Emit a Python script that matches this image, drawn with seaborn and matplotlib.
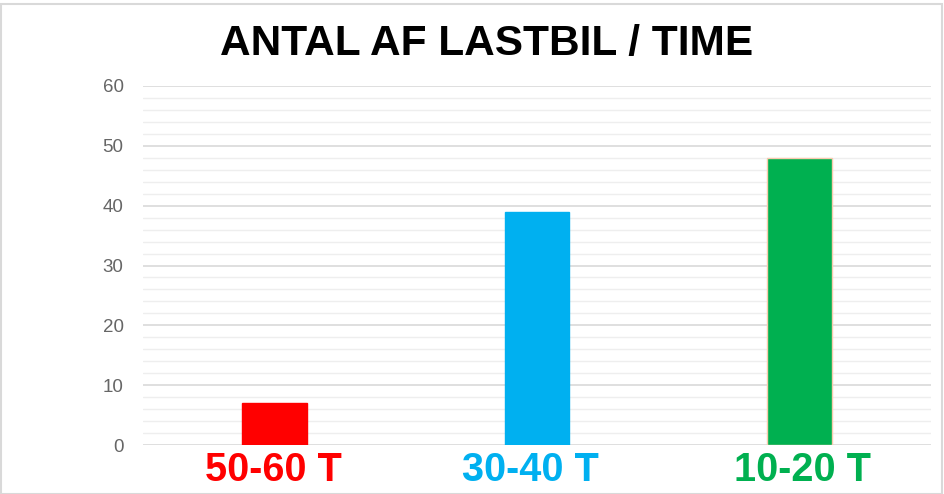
import matplotlib
matplotlib.use("Agg")
import matplotlib.pyplot as plt
import matplotlib.transforms as mtransforms
import seaborn as sns
import pandas as pd
from matplotlib.ticker import MultipleLocator
from matplotlib.patches import Rectangle

# data
categories = ["50-60 T", "30-40 T", "10-20 T"]
values = [7, 39, 48]
colors = ["#ff0000", "#00b0f0", "#00b050"]
edge_colors = ["#ff0000", "#00b0f0", "#f8cbad"]
label_shift_px = [-1, -7, 3]  # labels in the original sit slightly off-centre

sns.set_style("white")
plt.rcParams['font.family'] = ['Liberation Sans', 'DejaVu Sans']

df = pd.DataFrame({"kategori": categories, "antal": values})

fig = plt.figure(figsize=(9.44, 4.94), dpi=100)
ax = fig.add_axes([143 / 944, 1 - 445 / 494, (931 - 143) / 944, (445 - 86) / 494])

sns.barplot(data=df, x="kategori", y="antal", hue="kategori", palette=colors,
            saturation=1, width=0.247, legend=False, ax=ax, zorder=3)
for patch, ec in zip(ax.patches, edge_colors):
    patch.set_edgecolor(ec)
    patch.set_linewidth(1.0)

ax.set_ylim(0, 60)
ax.set_xlim(-0.5, 2.5)
ax.yaxis.set_major_locator(MultipleLocator(10))
ax.yaxis.set_minor_locator(MultipleLocator(2))
ax.grid(axis='y', which='major', color='#d9d9d9', linewidth=1.2, zorder=0)
ax.grid(axis='y', which='minor', color='#eeeeee', linewidth=1.0, zorder=0)
ax.set_axisbelow(True)
for s in ax.spines.values():
    s.set_visible(False)

ax.tick_params(axis='y', which='both', length=0, labelsize=13.5, labelcolor='#666666', pad=14)
ax.tick_params(axis='x', length=0, pad=4)
for lbl, c, dx in zip(ax.get_xticklabels(), colors, label_shift_px):
    lbl.set_color(c)
    lbl.set_fontsize(28.5)
    lbl.set_fontweight('bold')
    lbl.set_transform(lbl.get_transform() +
                      mtransforms.ScaledTranslation(dx / 100, 0, fig.dpi_scale_trans))
ax.set_xlabel("")
ax.set_ylabel("")

fig.text(487 / 944, 1 - 44 / 494, "ANTAL AF LASTBIL / TIME", ha='center', va='center',
         fontsize=30.5, fontweight='bold', color='black')

# chart border
fig.patches.append(Rectangle((0.5 / 944, 0.5 / 494), 941 / 944, 489 / 494,
                             transform=fig.transFigure, fill=False,
                             edgecolor='#d9d9d9', linewidth=1.5))

fig.savefig("out.png", dpi=100)
